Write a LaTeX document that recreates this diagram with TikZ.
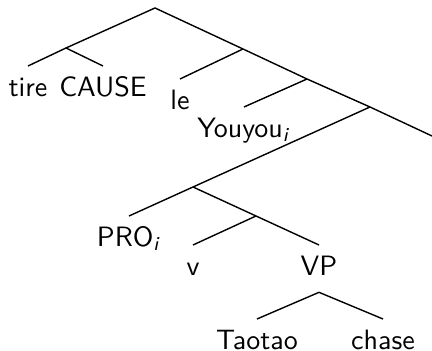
\documentclass[tikz,border=0pt]{standalone}
\begin{document}
\begin{tikzpicture}[x=0.3571pt,y=-0.3571pt,line width=0.5pt,
  leaf/.style={anchor=north,font=\sffamily,text height=7pt,text depth=2pt,inner xsep=0pt,inner ysep=3.7pt}]
  \useasboundingbox (0,0) rectangle (432,351);
  % branching points
  \coordinate (root) at (155,8);
  \coordinate (n1) at (66,48);
  \coordinate (n2) at (243,49);
  \coordinate (n3) at (307,79);
  \coordinate (n4) at (370,107);
  \coordinate (n5) at (193,187);
  \coordinate (n6) at (256,216);
  \coordinate (edge) at (432,136);
  % words
  \node[leaf] (tire) at (28,66) {tire};
  \node[leaf] (cause) at (103,66) {CAUSE};
  \node[leaf] (le) at (180,79) {le};
  \node[leaf] (youyou) at (244,107) {Youyou\textsubscript{\textit{i}}};
  \node[leaf] (pro) at (129,216) {PRO\textsubscript{\textit{i}}};
  \node[leaf] (v) at (193,245) {v};
  \node[leaf] (vp) at (319,245) {VP};
  \node[leaf] (taotao) at (257,319) {Taotao};
  \node[leaf] (chase) at (383,319) {chase};
  % branches
  \draw (n1) -- (root) -- (n2) -- (n3) -- (n4) -- (edge);
  \draw (tire.north) -- (n1) -- (cause.north);
  \draw (n2) -- (le.north);
  \draw (n3) -- (youyou.north);
  \draw (n4) -- (n5) -- (pro.north);
  \draw (n5) -- (n6) -- (vp.north);
  \draw (n6) -- (v.north);
  \draw (taotao.north) -- (vp.south) -- (chase.north);
\end{tikzpicture}
\end{document}
